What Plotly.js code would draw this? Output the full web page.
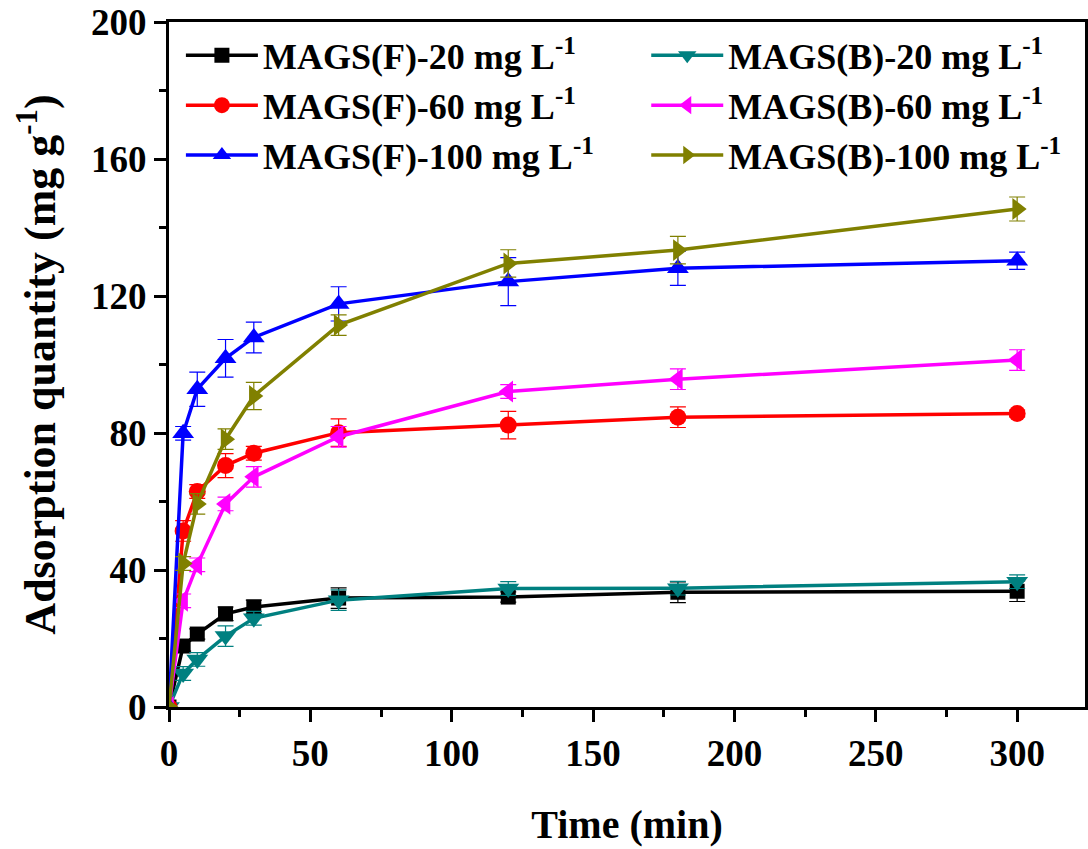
<!DOCTYPE html>
<html>
<head>
<meta charset="utf-8">
<script src="https://cdn.plot.ly/plotly-3.0.1.min.js"></script>
<style>html,body{margin:0;padding:0;background:#fff;}#chart{width:1088px;height:849px;}</style>
</head>
<body>
<div id="chart"></div>
<script>
const time = [0, 5, 10, 20, 30, 60, 120, 180, 300];

const seriesNames = [
  "MAGS(F)-20 mg L<sup>-1</sup>",
  "MAGS(B)-20 mg L<sup>-1</sup>",
  "MAGS(F)-60 mg L<sup>-1</sup>",
  "MAGS(B)-60 mg L<sup>-1</sup>",
  "MAGS(F)-100 mg L<sup>-1</sup>",
  "MAGS(B)-100 mg L<sup>-1</sup>"
];

const f20 = [0, 17.8, 21.3, 27.2, 29.2, 31.8, 32.1, 33.5, 33.8];
const b20 = [0, 9.8, 13.9, 20.7, 25.9, 31.2, 34.6, 34.7, 36.6];
const f60 = [0, 51.4, 62.9, 70.5, 74.1, 80.1, 82.3, 84.6, 85.7];
const b60 = [0, 31.0, 41.5, 59.3, 67.2, 78.9, 92.1, 95.7, 101.3];
const f100 = [0, 79.9, 92.8, 101.8, 107.9, 117.7, 124.2, 128.1, 130.3];
const b100 = [0, 41.9, 59.3, 78.2, 90.8, 111.5, 129.5, 133.4, 145.4];

const f20err = [0, 1.5, 1.5, 2, 2, 3, 1.5, 3, 3];
const b20err = [0, 2, 2, 3, 2, 3, 2, 2, 2];
const f60err = [0, 3, 2, 3.5, 2, 4, 4, 3, 1];
const b60err = [0, 2, 2, 2, 3, 3, 2, 3, 3];
const f100err = [0, 2, 5, 5.5, 4.5, 5, 7, 5, 2.5];
const b100err = [0, 2, 3, 3, 4, 3, 4, 4, 3.5];

const values = [f20, b20, f60, b60, f100, b100];
const errors = [f20err, b20err, f60err, b60err, f100err, b100err];
const colors = ["#000000", "#008080", "#ff0000", "#ff00ff", "#0000ff", "#808000"];
const symbols = ["square", "triangle-down", "circle", "triangle-left", "triangle-up", "triangle-right"];
const sizes = [15, 19, 17, 19, 19, 19];
const legendIds = ["legend", "legend2", "legend", "legend2", "legend", "legend2"];

const font = {family: "Liberation Serif, Times New Roman, serif", weight: 700, color: "#000"};
function f(size) { return Object.assign({}, font, {size: size}); }

const traces = values.map((v, i) => ({
  x: time, y: v, name: seriesNames[i], type: "scatter", mode: "lines+markers",
  legend: legendIds[i],
  line: {color: colors[i], width: 3.5},
  marker: {color: colors[i], symbol: symbols[i], size: sizes[i]},
  error_y: {type: "data", array: errors[i], visible: true, color: colors[i], thickness: 1.2, width: 8}
}));

const legendBase = {
  orientation: "v", y: 0.995, xanchor: "left", yanchor: "top",
  font: f(36), bgcolor: "rgba(0,0,0,0)", borderwidth: 0,
  itemwidth: 72, tracegroupgap: 0
};

const layout = {
  width: 1088, height: 849,
  margin: {l: 169, r: 3, t: 22, b: 142},
  paper_bgcolor: "#fff", plot_bgcolor: "#fff",
  showlegend: true,
  legend: Object.assign({}, legendBase, {x: 0.013}),
  legend2: Object.assign({}, legendBase, {x: 0.521}),
  xaxis: {
    range: [0, 324], tickvals: [0, 50, 100, 150, 200, 250, 300],
    ticks: "outside", ticklen: 12, tickwidth: 3, tickcolor: "#000",
    minor: {tickvals: [25, 75, 125, 175, 225, 275], ticks: "outside", ticklen: 7, tickwidth: 3, tickcolor: "#000"},
    showline: true, linewidth: 3, linecolor: "#000", mirror: true,
    showgrid: false, zeroline: false,
    tickfont: f(37),
    title: {text: "Time (min)", font: f(40), standoff: 37}
  },
  yaxis: {
    range: [0, 200], tickvals: [0, 40, 80, 120, 160, 200],
    ticks: "outside", ticklen: 12, tickwidth: 3, tickcolor: "#000",
    minor: {tickvals: [20, 60, 100, 140, 180], ticks: "outside", ticklen: 7, tickwidth: 3, tickcolor: "#000"},
    showline: true, linewidth: 3, linecolor: "#000", mirror: true,
    showgrid: false, zeroline: false,
    tickfont: f(37),
    title: {text: "Adsorption quantity (mg g<sup>-1</sup>)", font: f(44), standoff: 22}
  }
};

Plotly.newPlot("chart", traces, layout, {displayModeBar: false, staticPlot: true});
</script>
</body>
</html>
